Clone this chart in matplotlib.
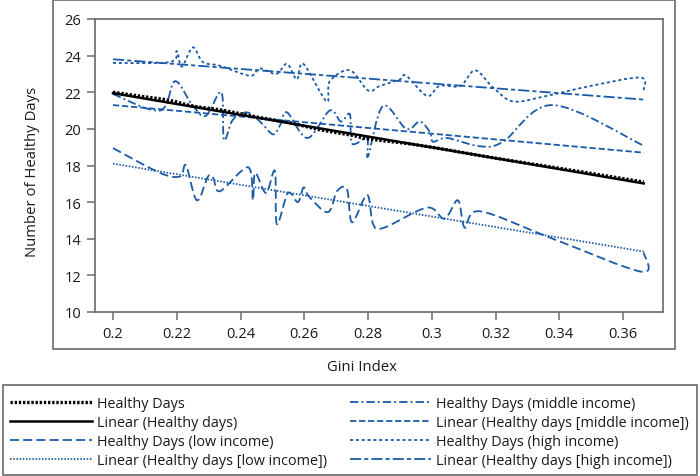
import matplotlib
matplotlib.use('Agg')
import matplotlib.pyplot as plt
from matplotlib.path import Path
from matplotlib.patches import PathPatch, Rectangle
from matplotlib.lines import Line2D
import numpy as np

plt.rcParams['font.family'] = ['Open Sans', 'DejaVu Sans']
plt.rcParams['lines.scale_dashes'] = False

BLUE = '#1a5aa8'
GRAY = '#6a6a6a'

# ---------------- data ----------------
x_ticks = [0.2, 0.22, 0.24, 0.26, 0.28, 0.3, 0.32, 0.34, 0.36]
x_tick_labels = ['0.2', '0.22', '0.24', '0.26', '0.28', '0.3', '0.32', '0.34', '0.36']
y_ticks = [10, 12, 14, 16, 18, 20, 22, 24, 26]

all_x = [0.2000, 0.2100, 0.2180, 0.2250, 0.2350, 0.2450, 0.2550, 0.2650, 0.2750,
         0.2800, 0.2900, 0.3000, 0.3100, 0.3200, 0.3400, 0.3665]
all_y = [22.0, 21.75, 21.55, 21.25, 21.0, 20.65, 20.35, 19.95, 19.65,
         19.45, 19.25, 19.0, 18.7, 18.4, 17.85, 17.1]

lin_x = [0.2000, 0.3665]
lin_all_y = [21.95, 17.02]

low_x = [0.2000, 0.2147, 0.2210, 0.2229, 0.2263, 0.2298, 0.2315, 0.2336, 0.2424,
         0.2439, 0.2446, 0.2480, 0.2508, 0.2514, 0.2549, 0.2580, 0.2598, 0.2615,
         0.2674, 0.2703, 0.2734, 0.2750, 0.2797, 0.2816, 0.2850, 0.2985, 0.3040,
         0.3082, 0.3104, 0.3151, 0.3380, 0.3658, 0.3665]
low_y = [18.95, 17.6, 17.4, 18.0, 16.1, 17.4, 17.3, 16.6, 17.9,
         16.1, 17.6, 16.5, 17.7, 14.8, 16.5, 16.0, 16.8, 16.3,
         15.45, 16.6, 16.7, 14.9, 16.4, 14.8, 14.6, 15.7, 15.1,
         16.1, 14.6, 15.5, 14.0, 12.2, 13.25]
lin_low_y = [18.1, 13.3]

mid_x = [0.2000, 0.2147, 0.2194, 0.2245, 0.2290, 0.2340, 0.2348, 0.2376, 0.2420,
         0.2461, 0.2502, 0.2524, 0.2546, 0.2610, 0.2680, 0.2715, 0.2743, 0.2750,
         0.2797, 0.2800, 0.2847, 0.2920, 0.2963, 0.2995, 0.3004, 0.3048, 0.3151,
         0.3224, 0.3380, 0.3663]
mid_y = [21.9, 21.0, 22.6, 21.4, 20.7, 22.0, 19.4, 20.5, 20.9,
         20.4, 19.7, 20.2, 20.9, 19.5, 21.0, 20.4, 20.8, 19.2,
         19.5, 18.5, 21.25, 20.0, 20.4, 19.8, 19.3, 19.5, 19.05,
         19.3, 21.3, 19.1]
lin_mid_y = [21.3, 18.7]

high_x = [0.2000, 0.2179, 0.2200, 0.2216, 0.2250, 0.2282, 0.2335, 0.2430, 0.2460,
          0.2512, 0.2546, 0.2577, 0.2597, 0.2670, 0.2680, 0.2743, 0.2800, 0.2838,
          0.2900, 0.2920, 0.2985, 0.3025, 0.3090, 0.3136, 0.3190, 0.3255, 0.3360,
          0.3500, 0.3655, 0.3665]
high_y = [23.6, 23.65, 24.25, 23.4, 24.45, 23.65, 23.45, 22.9, 23.3,
          23.0, 23.55, 22.7, 23.55, 21.5, 22.6, 23.2, 22.1, 22.35,
          22.7, 22.9, 21.8, 22.35, 22.35, 23.2, 22.3, 21.5, 21.8,
          22.35, 22.8, 22.1]
lin_high_y = [23.8, 21.6]

labels = ['Healthy Days', 'Linear (Healthy days)',
          'Healthy Days (low income)', 'Linear (Healthy days [low income])',
          'Healthy Days (middle income)', 'Linear (Healthy days [middle income])',
          'Healthy Days (high income)', 'Linear (Healthy days [high income])']

# styles
ST_ALL = dict(color='black', lw=2.4, ls=(0, (1.7, 1.3)))
ST_LIN = dict(color='black', lw=1.8, ls='-')
ST_LOW = dict(color=BLUE, lw=1.3, ls=(0, (6.5, 3.0)))
ST_LINLOW = dict(color=BLUE, lw=1.3, ls=(0, (1.1, 1.2)))
ST_MID = dict(color=BLUE, lw=1.3, ls=(0, (6.0, 2.2, 1.4, 2.2)))
ST_LINMID = dict(color=BLUE, lw=1.3, ls=(0, (4.5, 2.0)))
ST_HIGH = dict(color=BLUE, lw=1.3, ls=(0, (2.2, 2.0)))
ST_LINHIGH = dict(color=BLUE, lw=1.3, ls=(0, (8.0, 2.2, 3.0, 2.2)))


def smooth_path(xs, ys):
    P = np.column_stack([xs, ys]).astype(float)
    n = len(P)
    verts = [P[0]]
    codes = [Path.MOVETO]
    for i in range(n - 1):
        p0 = P[i - 1] if i > 0 else P[i]
        p1 = P[i]
        p2 = P[i + 1]
        p3 = P[i + 2] if i + 2 < n else P[i + 1]
        c1 = p1 + (p2 - p0) / 6.0
        c2 = p2 - (p3 - p1) / 6.0
        verts += [c1, c2, p2]
        codes += [Path.CURVE4] * 3
    return Path(verts, codes)


def add_smooth(ax, xs, ys, st):
    patch = PathPatch(smooth_path(xs, ys), fill=False, edgecolor=st['color'],
                      lw=st['lw'], ls=st['ls'], capstyle='butt', joinstyle='round')
    ax.add_patch(patch)


W, H = 700, 477
fig = plt.figure(figsize=(7.0, 4.77), dpi=100)

ax = fig.add_axes([95 / W, 1 - 313 / H, 568 / W, 293 / H])
ax.set_xlim(0.19435, 0.37255)
ax.set_ylim(10, 26)

# blue series
ax.plot(lin_x, lin_high_y, color=BLUE, lw=ST_LINHIGH['lw'], ls=ST_LINHIGH['ls'])
add_smooth(ax, high_x, high_y, ST_HIGH)
ax.plot(lin_x, lin_mid_y, color=BLUE, lw=ST_LINMID['lw'], ls=ST_LINMID['ls'])
add_smooth(ax, mid_x, mid_y, ST_MID)
ax.plot(lin_x, lin_low_y, color=BLUE, lw=ST_LINLOW['lw'], ls=ST_LINLOW['ls'])
add_smooth(ax, low_x, low_y, ST_LOW)
# black series
ax.plot(lin_x, lin_all_y, color='black', lw=ST_LIN['lw'], ls='-')
add_smooth(ax, all_x, all_y, ST_ALL)

ax.set_xticks(x_ticks)
ax.set_xticklabels(x_tick_labels)
ax.set_yticks(y_ticks)
for s in ax.spines.values():
    s.set_color(GRAY)
    s.set_linewidth(1.2)
ax.tick_params(axis='both', direction='out', length=6, width=1.1, color=GRAY,
               labelsize=10.5, labelcolor='#1a1a1a')
ax.tick_params(axis='y', pad=4)
ax.tick_params(axis='x', pad=4)

# outer chart frame
fig.patches.append(Rectangle((53 / W, 1 - 350 / H), 622 / W, 349 / H,
                             transform=fig.transFigure, fill=False,
                             edgecolor=GRAY, lw=1.2))

fig.text(33 / W, 1 - 172 / H, 'Number of Healthy Days', rotation=90,
         ha='center', va='center', fontsize=10.7, color='#1a1a1a')
fig.text(362 / W, 1 - 368 / H, 'Gini Index', ha='center', va='center',
         fontsize=10.7, color='#1a1a1a')

# legend box
fig.patches.append(Rectangle((3 / W, 1 - 476 / H), 694 / W, 90 / H,
                             transform=fig.transFigure, fill=False,
                             edgecolor=GRAY, lw=1.2))

styles = [ST_ALL, ST_LIN, ST_LOW, ST_LINLOW, ST_MID, ST_LINMID, ST_HIGH, ST_LINHIGH]
rows_y = [403, 422, 441, 460]
cols = [(10, 92, 97), (350, 431, 436)]
for i, (lab, st) in enumerate(zip(labels, styles)):
    c = i // 4
    r = i % 4
    x0, x1, xt = cols[c]
    yy = 1 - rows_y[r] / H
    fig.lines.append(Line2D([x0 / W, x1 / W], [yy, yy], transform=fig.transFigure,
                            color=st['color'], lw=st['lw'], ls=st['ls'],
                            dash_capstyle='butt'))
    fig.text(xt / W, yy - 1.2 / H, lab, ha='left', va='center', fontsize=10.4,
             color='#1a1a1a')

fig.savefig('out.png', dpi=100)
